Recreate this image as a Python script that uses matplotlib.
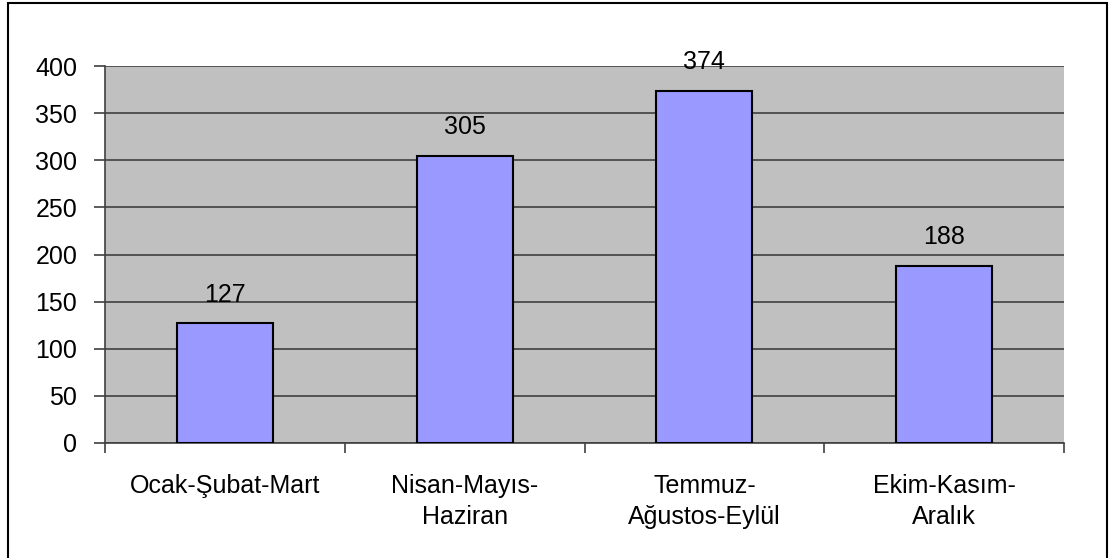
import numpy as np
import matplotlib.pyplot as plt
from matplotlib.patches import Rectangle

plt.rcParams['font.family'] = ['Liberation Sans', 'DejaVu Sans']

donemler = ["Ocak-Şubat-Mart", "Nisan-Mayıs-\nHaziran", "Temmuz-\nAğustos-Eylül", "Ekim-Kasım-\nAralık"]
degerler = [127, 305, 374, 188]
y_ticks = [0, 50, 100, 150, 200, 250, 300, 350, 400]

fig = plt.figure(figsize=(11.15, 5.58), dpi=100)
ax = fig.add_axes([105 / 1115, 1 - 443 / 558, (1064 - 105) / 1115, (443 - 66) / 558])

# outer frame (bottom edge falls outside the picture)
fig.patches.append(Rectangle((8 / 1115, -0.05), (1107 - 8) / 1115, 1.05 - 3 / 558,
                             transform=fig.transFigure, fill=False, edgecolor="black", lw=1.5))

ax.set_facecolor("#c0c0c0")
x = np.arange(len(donemler))
ax.bar(x, degerler, width=0.4, color="#9999ff", edgecolor="black", linewidth=1.5, zorder=3)

for xi, v in zip(x, degerler):
    ax.annotate(str(v), (xi, v), xytext=(0, 12), textcoords="offset points",
                ha="center", va="bottom", fontsize=18, color="black")

ax.set_xlim(-0.5, len(donemler) - 0.5)
ax.set_ylim(0, 400)
ax.set_yticks(y_ticks)
ax.yaxis.grid(True, color="#404040", linewidth=1.2, zorder=1)
ax.set_axisbelow(True)

# category ticks sit on boundaries, labels in the middle
ax.set_xticks(np.arange(len(donemler) + 1) - 0.5)
ax.set_xticklabels([])
ax.set_xticks(x, minor=True)
ax.set_xticklabels(donemler, minor=True, fontsize=18, linespacing=1.4)
ax.tick_params(axis="x", which="minor", length=0, pad=22)
ax.tick_params(axis="x", which="major", length=7, width=1.2, color="#404040")
ax.tick_params(axis="y", length=8, width=1.2, color="#404040", labelsize=18, pad=12)

for s in ["top", "right"]:
    ax.spines[s].set_visible(False)
ax.spines["left"].set_color("#404040")
ax.spines["bottom"].set_color("#404040")
ax.spines["left"].set_linewidth(1.2)
ax.spines["bottom"].set_linewidth(1.2)

fig.savefig("out.png", dpi=100)
